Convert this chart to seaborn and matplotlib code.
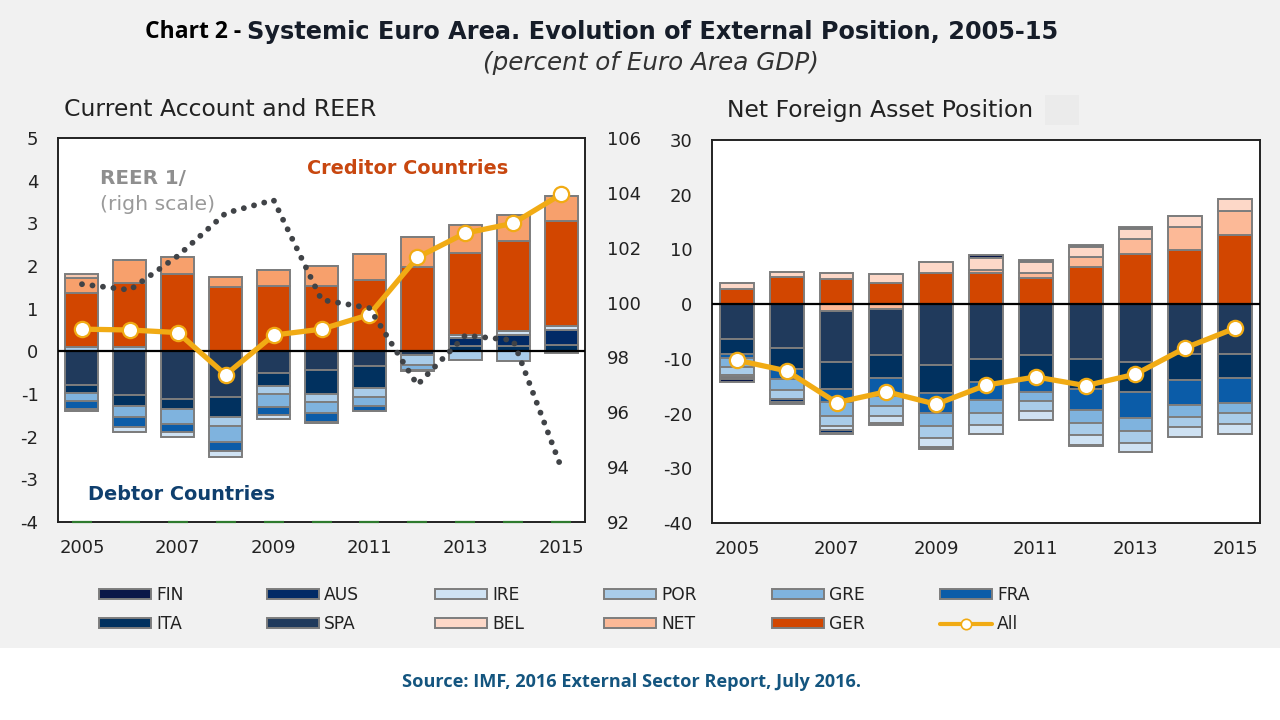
import matplotlib
matplotlib.use("Agg")
import matplotlib.pyplot as plt
import matplotlib.patheffects as pe
from matplotlib.lines import Line2D
from matplotlib.patches import Patch, Rectangle
import numpy as np
import pandas as pd
import seaborn as sns

years = list(range(2005, 2016))
tick_years = [2005, 2007, 2009, 2011, 2013, 2015]

# Current account by country (percent of Euro Area GDP)
ca_SPA = [-.78, -1.02, -1.11, -1.08, -.51, -.43, -.34, -.08, 0, 0, 0]
ca_ITA = [-.20, -.26, -.23, -.47, -.31, -.57, -.51, 0, .12, .12, .16]
ca_AUS = [0, 0, 0, 0, 0, 0, 0, 0, .19, .27, .34]
ca_POR = [.10, .10, 0, -.20, -.17, -.19, -.21, -.25, -.20, -.22, 0]
ca_GRE = [-.18, -.27, -.36, -.37, -.31, -.26, -.22, -.10, 0, 0, 0]
ca_FRA = [-.20, -.22, -.18, -.21, -.20, -.20, -.11, 0, 0, 0, 0]
ca_IRE = [-.05, -.12, -.125, -.14, -.09, -.02, 0, -.04, .08, .08, .09]
ca_FIN = [0, 0, 0, 0, 0, 0, 0, 0, 0, 0, -.05]
ca_GER = [1.27, 1.51, 1.82, 1.50, 1.52, 1.52, 1.68, 1.98, 1.91, 2.11, 2.47]
ca_NET = [.35, .52, .39, .25, .39, .47, .60, .69, .65, .61, .59]
ca_BEL = [.10, 0, 0, 0, 0, 0, 0, 0, 0, 0, 0]
ca_ALL = [.52, .50, .44, -.55, .38, .52, .86, 2.20, 2.77, 3.00, 3.68]
reer = [100.67, 100.46, 101.7, 103.26, 103.74, 100.1, 99.8, 97.0, 98.8, 98.63, 94.0]
floor_marks = [-4] * 11

# Net foreign asset position by country (percent of Euro Area GDP)
nfa_GER = [2.74, 4.88, 4.57, 3.84, 5.70, 5.67, 4.70, 6.70, 9.15, 9.94, 12.62]
nfa_NET = [0, 0, -1.2, -.8, 0, .55, .97, 1.83, 2.74, 4.10, 4.45]
nfa_BEL = [1.10, 1.04, 1.10, 1.65, 2.00, 2.30, 1.95, 1.83, 1.83, 2.00, 2.13]
nfa_SPA = [-6.3, -7.93, -9.33, -8.54, -11.16, -9.94, -9.27, -9.94, -10.55, -9.15, -9.15]
nfa_ITA = [-2.87, -3.96, -5.0, -4.1, -5.0, -4.2, -4.15, -5.6, -5.5, -4.7, -4.27]
nfa_FRA = [-.6, -1.83, -2.44, -3.35, -3.78, -3.4, -2.56, -3.84, -4.7, -4.63, -4.57]
nfa_GRE = [-1.8, -1.95, -2.44, -1.83, -2.3, -2.3, -1.7, -2.26, -2.44, -2.07, -1.95]
nfa_POR = [-1.4, -1.7, -1.95, -1.83, -2.3, -2.26, -1.83, -2.3, -2.13, -1.83, -1.89]
nfa_IRE = [-.4, 0, -.6, -1.2, -1.65, -1.6, -1.7, -1.83, -1.65, -1.83, -1.83]
nfa_AUS = [-.4, -.5, -.5, -.3, -.3, -.1, 0, -.2, 0, 0, 0]
nfa_FIN = [-.5, -.4, -.3, -.2, 0, .4, .4, .4, .4, 0, 0]
nfa_ALL = [-10.24, -12.2, -18.0, -16.0, -18.3, -14.8, -13.3, -14.9, -12.8, -8.0, -4.4]

ca_series = [("SPA", ca_SPA), ("ITA", ca_ITA), ("AUS", ca_AUS), ("POR", ca_POR),
             ("GRE", ca_GRE), ("FRA", ca_FRA), ("IRE", ca_IRE), ("FIN", ca_FIN),
             ("GER", ca_GER), ("NET", ca_NET), ("BEL", ca_BEL)]
nfa_series = [("GER", nfa_GER), ("NET", nfa_NET), ("BEL", nfa_BEL), ("SPA", nfa_SPA),
              ("ITA", nfa_ITA), ("FRA", nfa_FRA), ("GRE", nfa_GRE), ("POR", nfa_POR),
              ("IRE", nfa_IRE), ("AUS", nfa_AUS), ("FIN", nfa_FIN)]

colors = {"FIN": "#0a1748", "AUS": "#012a66", "IRE": "#cfe2f3", "POR": "#a9cce9",
          "GRE": "#7fb3de", "FRA": "#0b5ca8", "ITA": "#01315f", "SPA": "#203a5c",
          "BEL": "#fdd8c8", "NET": "#fcb997", "GER": "#d24600"}
legend_cols = [["FIN", "ITA"], ["AUS", "SPA"], ["IRE", "BEL"], ["POR", "NET"], ["GRE", "GER"], ["FRA", "All"]]
legend_x = [99, 267, 435, 604, 772, 940]

sns.set_theme(style="white")
plt.rcParams["font.family"] = ["DejaVu Sans"]
plt.rcParams["axes.unicode_minus"] = False
BG = "#f1f1f1"
EDGE = "#7d7d7d"
GOLD = "#f1ab14"
W, H = 1280, 720

fig = plt.figure(figsize=(12.8, 7.2), dpi=100, facecolor=BG)


def box(x0, y0, x1, y1):
    return [x0 / W, 1 - y1 / H, (x1 - x0) / W, (y1 - y0) / H]


fig.add_artist(Rectangle((0, 0), 1, 1 - 648 / H, transform=fig.transFigure, fc="white", ec="none", zorder=-5))
fig.add_artist(Rectangle((1045 / W, 1 - 125 / H), 34 / W, 30 / H, transform=fig.transFigure,
                         fc="#ebebeb", ec="none", zorder=-4))


def stacked(ax, series, width, palette):
    pos = np.zeros(len(years))
    neg = np.zeros(len(years))
    for name, vals in series:
        vals = np.array(vals, dtype=float)
        up = np.clip(vals, 0, None)
        dn = np.clip(vals, None, 0)
        for part, base in ((up, pos), (dn, neg)):
            if not np.any(part):
                continue
            frame = pd.DataFrame({"year": years, "value": part})
            sns.barplot(data=frame, x="year", y="value", bottom=base.copy(), width=width,
                        color=palette.get(name, colors[name]), saturation=1, edgecolor=EDGE,
                        linewidth=1.4, errorbar=None, ax=ax, zorder=2)
        pos += up
        neg += dn


def all_line(ax, vals):
    sns.lineplot(x=np.arange(len(years)), y=vals, color=GOLD, linewidth=3.8, marker="o",
                 markersize=11, markerfacecolor="white", markeredgecolor=GOLD,
                 markeredgewidth=1.6, ax=ax, zorder=5, legend=False)


def finish(ax, ymin, ymax, step, pad_y):
    ax.set_facecolor("white")
    ax.axhline(0, color="black", lw=1.6, zorder=4)
    ax.set_xlim(-0.5, 10.5)
    ax.set_ylim(ymin, ymax)
    ax.set_yticks(np.arange(ymin, ymax + 1, step))
    ax.set_xticks([years.index(y) for y in tick_years])
    ax.set_xticklabels([str(y) for y in tick_years])
    ax.set_xlabel("")
    ax.set_ylabel("")
    ax.tick_params(axis="x", length=0, pad=12, labelsize=13, colors="#222222")
    ax.tick_params(axis="y", length=0, pad=pad_y, labelsize=13, colors="#222222")
    for s in ax.spines.values():
        s.set_color("#222222")
        s.set_linewidth(1.4)
        s.set_visible(True)


# Left panel
ax1 = fig.add_axes(box(58, 138, 585, 522))
stacked(ax1, ca_series, 0.69, {"NET": "#f7a06c", "BEL": "#f8c9b0"})
all_line(ax1, ca_ALL)
finish(ax1, -4, 5, 1, 14)
ax1.plot(np.arange(len(years)), floor_marks, ls="none", marker="_", ms=15, mew=1.6, color="#2f7a2f",
         clip_on=False, zorder=3)
ax1r = ax1.twinx()
sns.lineplot(x=np.arange(len(years)), y=reer, color="#404347", linewidth=4.2,
             linestyle=(0, (0.01, 1.8)), ax=ax1r, legend=False, zorder=6)
ax1r.lines[0].set_dash_capstyle("round")
ax1r.set_ylim(92, 106)
ax1r.set_yticks(np.arange(92, 107, 2))
ax1r.set_ylabel("")
ax1r.tick_params(axis="y", length=0, pad=16, labelsize=13, colors="#222222")
ax1r.grid(False)
for s in ax1r.spines.values():
    s.set_visible(False)

# Right panel
ax2 = fig.add_axes(box(712, 140, 1260, 523))
stacked(ax2, nfa_series, 0.68, {})
all_line(ax2, nfa_ALL)
finish(ax2, -40, 30, 10, 14)


def px_text(x, y, s, **kw):
    return fig.text(x / W, 1 - y / H, s, va="center", ha=kw.pop("ha", "left"), **kw)


px_text(145, 32, "Chart 2 -", fontsize=16.5, fontweight="bold", color="black", family="Open Sans")
px_text(247, 32, "Systemic Euro Area. Evolution of External Position, 2005-15", fontsize=17.3,
        fontweight="bold", color="#161d29")
px_text(483, 63, "(percent of Euro Area GDP)", fontsize=17.7, fontstyle="italic", color="#333333")
px_text(64, 109, "Current Account and REER", fontsize=16.9, color="#222222")
px_text(727, 111, "Net Foreign Asset Position", fontsize=16.9, color="#222222")
px_text(100, 178, "REER 1/", fontsize=14.3, fontweight="bold", color="#8f8f8f", zorder=10)
px_text(100, 204, "(righ scale)", fontsize=14.7, color="#9a9a9a", zorder=10)
px_text(307, 169, "Creditor Countries", fontsize=13.9, fontweight="bold", color="#c8470f", zorder=10)
px_text(88, 494, "Debtor Countries", fontsize=13.9, fontweight="bold", color="#0f3f6e", zorder=10)
px_text(402, 682, "Source: IMF, 2016 External Sector Report, July 2016.", fontsize=13.1,
        fontweight="bold", color="#14557f", family="Open Sans")


def handle(name):
    if name == "All":
        return Line2D([], [], color=GOLD, lw=3, marker="o", ms=7.5, mfc="white", mec=GOLD, mew=1.2)
    return Patch(fc=colors[name], ec=EDGE, lw=1.4)


for names, x in zip(legend_cols, legend_x):
    fig.legend(handles=[handle(n) for n in names], labels=names, loc="center left",
               bbox_to_anchor=(x / W, 1 - 609.5 / H), bbox_transform=fig.transFigure,
               frameon=False, fontsize=12.3, handlelength=3.05, handleheight=0.5,
               handletextpad=0.3, labelspacing=0.65, borderpad=0, borderaxespad=0,
               labelcolor="#222222")

fig.savefig("out.png", dpi=100, facecolor=fig.get_facecolor())
